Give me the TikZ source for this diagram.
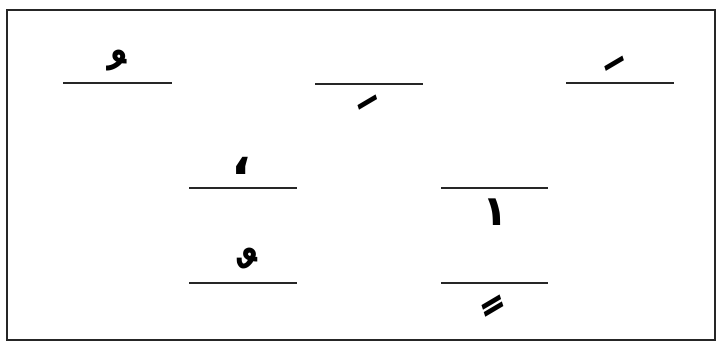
\documentclass[tikz,border=0pt]{standalone}
\usepackage{fontspec}
\usepackage{tikz}
\newfontfamily\arabicfont[Script=Arabic]{DejaVu Sans}
\TeXXeTstate=1

\begin{document}
\begin{tikzpicture}[x=1pt, y=-1pt,
    frame/.style={draw=black!85, line width=2pt},
    rule/.style={draw=black!85, line width=1.6pt},
    haraka/.style={inner sep=0pt, font=\arabicfont\bfseries\fontsize{72}{72}\selectfont},
    sign/.style={inner sep=0pt, font=\arabicfont\bfseries\fontsize{42}{42}\selectfont},
]
    \useasboundingbox (0,0) rectangle (721,344);
    \draw[frame] (7,10) rectangle (715,340);

    % top row
    \draw[rule] (63,83)  -- (172,83);
    \draw[rule] (315,84) -- (423,84);
    \draw[rule] (566,83) -- (674,83);
    \node[haraka] (damma)   at (117,82)  {ﹸ};
    \node[haraka, rotate=18] (kasra) at (368,102) {ﹺ};
    \node[haraka, rotate=18] (fatha) at (621,84)  {ﹶ};

    % middle row
    \draw[rule] (189,188) -- (297,188);
    \draw[rule] (441,188) -- (548,188);
    \node[sign, font=\arabicfont\bfseries\fontsize{52}{52}\selectfont] (comma) at (241,166) {،};
    \node[sign] (alef)    at (495,212) {١};

    % bottom row
    \draw[rule] (189,283) -- (297,283);
    \draw[rule] (441,283) -- (548,283);
    \node[haraka] (dammat)  at (242,280) {\char"00A0\char"064C};
    \node[haraka, rotate=18] (kasrat) at (493,306) {ﹴ};
\end{tikzpicture}
\end{document}
